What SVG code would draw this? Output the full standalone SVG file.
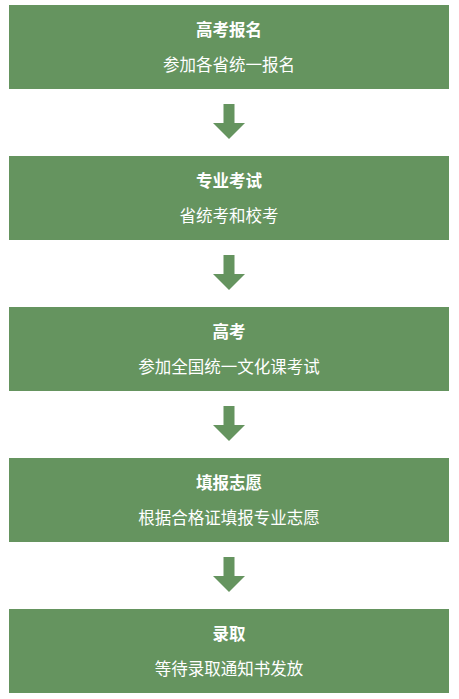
<svg xmlns="http://www.w3.org/2000/svg" width="459" height="699" viewBox="0 0 459 699">
<style>
.box{fill:#65945f}
.t{font-family:"Noto Sans CJK SC","Noto Sans",sans-serif;fill:#fff;text-anchor:middle;font-size:16.5px}
.b{font-weight:bold}
.arr{fill:#65945f}
</style>
<defs>
<path id="arrow" class="arr" d="M223.5,0 H234.5 V19 H245 L229,35 L213,19 H223.5 Z"/>
</defs>
<rect width="459" height="699" fill="#fff"/>
<g id="connectors">
<use href="#arrow" y="104"/>
<use href="#arrow" y="255"/>
<use href="#arrow" y="406"/>
<use href="#arrow" y="557"/>
</g>
<g id="node1"><rect class="box" x="9" y="5" width="440" height="84"/><text class="t b" x="229" y="36">高考报名</text><text class="t" x="229" y="71">参加各省统一报名</text></g>
<g id="node2"><rect class="box" x="9" y="156" width="440" height="84"/><text class="t b" x="229" y="187">专业考试</text><text class="t" x="229" y="222">省统考和校考</text></g>
<g id="node3"><rect class="box" x="9" y="307" width="440" height="84"/><text class="t b" x="229" y="338">高考</text><text class="t" x="229" y="373">参加全国统一文化课考试</text></g>
<g id="node4"><rect class="box" x="9" y="458" width="440" height="84"/><text class="t b" x="229" y="489">填报志愿</text><text class="t" x="229" y="524">根据合格证填报专业志愿</text></g>
<g id="node5"><rect class="box" x="9" y="609" width="440" height="84"/><text class="t b" x="229" y="640">录取</text><text class="t" x="229" y="675">等待录取通知书发放</text></g>
</svg>
